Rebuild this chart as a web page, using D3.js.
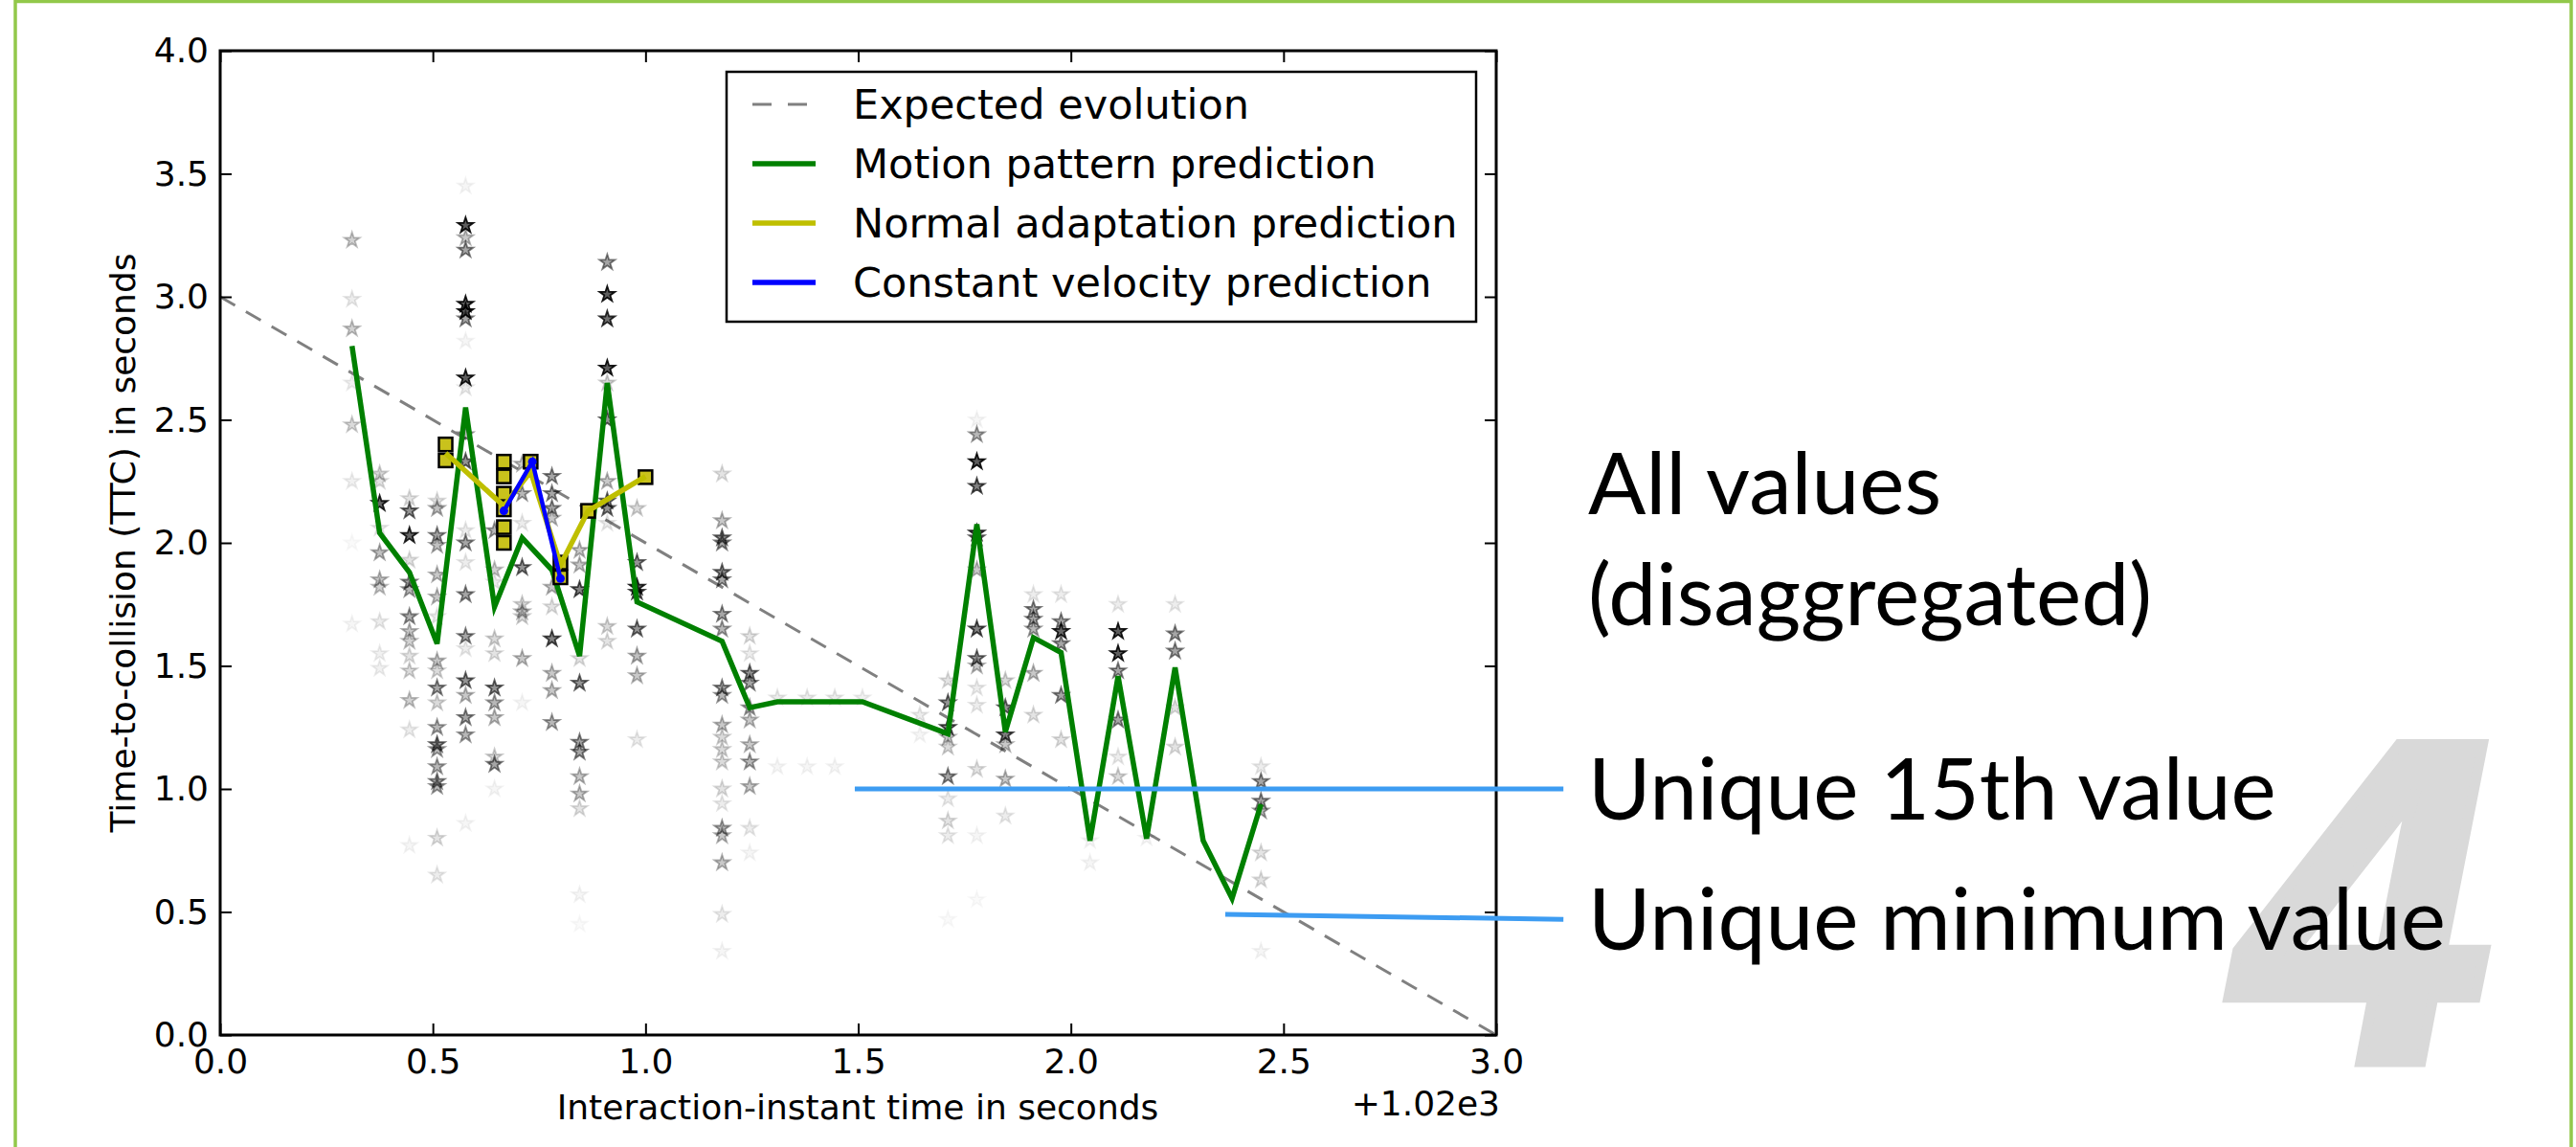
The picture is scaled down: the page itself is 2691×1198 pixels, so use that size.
<!DOCTYPE html>
<html>
<head>
<meta charset="utf-8">
<title>Time-to-collision predictions</title>
<script src="https://cdn.jsdelivr.net/npm/d3@7"></script>
<style>
  body { margin: 0; background: #fff; }
  svg { display: block; }
  .axis text { font-family: "DejaVu Sans"; font-size: 36px; fill: #000; }
  .axis line { stroke: #000; stroke-width: 2px; }
</style>
</head>
<body>
<svg id="chart" width="2691" height="1198"></svg>
<script>
// ---- data (x in seconds, offset +1.02e3) ----
var xTicks = [0, 0.5, 1.0, 1.5, 2.0, 2.5, 3.0];
var yTicks = [0, 0.5, 1.0, 1.5, 2.0, 2.5, 3.0, 3.5, 4.0];

var expectedX = [0, 3];
var expectedY = [3, 0];

var motionX = [0.31, 0.375, 0.445, 0.51, 0.577, 0.645, 0.71, 0.78, 0.845, 0.91, 0.98, 1.18, 1.245, 1.31, 1.38, 1.445, 1.51, 1.711, 1.779, 1.846, 1.912, 1.977, 2.045, 2.111, 2.178, 2.245, 2.311, 2.379, 2.447];
var motionY = [2.80, 2.04, 1.88, 1.59, 2.55, 1.74, 2.02, 1.89, 1.54, 2.65, 1.76, 1.60, 1.33, 1.354, 1.354, 1.354, 1.354, 1.224, 2.075, 1.232, 1.615, 1.554, 0.79, 1.458, 0.798, 1.493, 0.79, 0.555, 0.938];

var normalX = [0.53, 0.667, 0.73, 0.80, 0.865, 1.0];
var normalY = [2.365, 2.15, 2.29, 1.91, 2.13, 2.27];

var constX = [0.667, 0.734, 0.80];
var constY = [2.13, 2.33, 1.855];

var squareX = [0.53, 0.53, 0.667, 0.667, 0.667, 0.667, 0.667, 0.667, 0.73, 0.80, 0.80, 0.865, 1.0];
var squareY = [2.40, 2.335, 2.33, 2.27, 2.20, 2.136, 2.064, 2.0, 2.33, 1.92, 1.86, 2.13, 2.267];

// disaggregated values: one column per instant, [value, opacity]
var starCols = [0.31, 0.375, 0.445, 0.51, 0.577, 0.645, 0.71, 0.78, 0.845, 0.91, 0.98, 1.18, 1.245, 1.31, 1.38, 1.445, 1.51, 1.645, 1.711, 1.779, 1.846, 1.912, 1.977, 2.045, 2.111, 2.178, 2.245, 2.447];
var starVals = [
  [[3.23,.25],[2.99,.1],[2.87,.25],[2.65,.08],[2.48,.2],[2.25,.08],[2.0,.03],[1.67,.05]],
  [[2.28,.2],[2.25,.15],[2.16,.85],[2.06,.1],[1.96,.35],[1.85,.3],[1.82,.25],[1.68,.1],[1.55,.08],[1.49,.08]],
  [[2.18,.15],[2.13,.6],[2.03,.85],[1.93,.15],[1.84,.5],[1.81,.4],[1.70,.45],[1.64,.3],[1.60,.25],[1.54,.15],[1.48,.2],[1.36,.25],[1.24,.1],[0.77,.05]],
  [[2.17,.15],[2.14,.35],[2.03,.5],[1.99,.35],[1.87,.3],[1.78,.3],[1.70,.1],[1.52,.3],[1.48,.2],[1.41,.5],[1.35,.2],[1.25,.4],[1.18,.6],[1.16,.4],[1.09,.4],[1.03,.5],[1.01,.4],[0.80,.15],[0.65,.1]],
  [[3.45,.05],[3.29,.9],[3.24,.3],[3.19,.5],[2.97,.9],[2.94,.9],[2.91,.5],[2.82,.05],[2.67,.9],[2.63,.1],[2.44,.4],[2.33,.6],[2.05,.1],[2.0,.5],[1.92,.1],[1.79,.5],[1.62,.5],[1.57,.1],[1.44,.6],[1.38,.3],[1.29,.5],[1.22,.4],[0.86,.05]],
  [[2.05,.4],[1.89,.25],[1.84,.1],[1.61,.2],[1.55,.15],[1.41,.6],[1.35,.4],[1.29,.3],[1.13,.2],[1.10,.5],[1.0,.05]],
  [[2.32,.3],[2.20,.4],[2.08,.1],[1.90,.6],[1.75,.2],[1.72,.3],[1.70,.2],[1.53,.3],[1.35,.05]],
  [[2.27,.5],[2.20,.5],[2.14,.5],[2.10,.3],[1.82,.3],[1.74,.15],[1.61,.7],[1.47,.3],[1.40,.3],[1.27,.4]],
  [[1.97,.3],[1.91,.3],[1.81,.7],[1.53,.15],[1.43,.6],[1.19,.5],[1.15,.5],[1.05,.3],[0.98,.3],[0.92,.15],[0.57,.05],[0.45,.03]],
  [[3.14,.5],[3.01,.9],[2.91,.8],[2.71,.9],[2.65,.2],[2.50,.6],[2.25,.3],[2.17,.6],[2.14,.6],[2.08,.1],[1.66,.2],[1.60,.15]],
  [[2.14,.2],[1.92,.6],[1.82,.85],[1.80,.7],[1.65,.6],[1.54,.35],[1.46,.3],[1.20,.1]],
  [[2.28,.15],[2.09,.3],[2.02,.6],[2.00,.5],[1.88,.6],[1.85,.5],[1.71,.5],[1.65,.4],[1.41,.5],[1.38,.4],[1.26,.3],[1.21,.2],[1.16,.2],[1.11,.2],[1.0,.15],[0.94,.1],[0.84,.4],[0.81,.3],[0.70,.3],[0.49,.1],[0.34,.05]],
  [[1.62,.15],[1.55,.1],[1.47,.6],[1.43,.5],[1.33,.4],[1.28,.3],[1.18,.3],[1.11,.4],[1.01,.3],[0.84,.1],[0.74,.05]],
  [[1.37,.1],[1.09,.05]],
  [[1.37,.1],[1.09,.05]],
  [[1.37,.1],[1.09,.05]],
  [[1.37,.08]],
  [[1.30,.1],[1.22,.05]],
  [[1.44,.15],[1.35,.6],[1.25,.7],[1.21,.3],[1.17,.2],[1.05,.5],[0.96,.1],[0.87,.15],[0.81,.1],[0.47,.03]],
  [[2.50,.05],[2.44,.4],[2.33,.9],[2.23,.7],[2.04,.8],[2.02,.6],[1.89,.3],[1.65,.7],[1.53,.6],[1.50,.3],[1.41,.1],[1.34,.1],[1.08,.15],[0.81,.05],[0.55,.03]],
  [[1.44,.2],[1.33,.6],[1.22,.7],[1.18,.3],[1.04,.3],[0.89,.1]],
  [[1.79,.1],[1.73,.5],[1.69,.5],[1.65,.4],[1.47,.3],[1.30,.15]],
  [[1.79,.1],[1.68,.5],[1.64,.85],[1.59,.5],[1.38,.5],[1.20,.15]],
  [[0.79,.05],[0.70,.05]],
  [[1.75,.1],[1.64,.9],[1.55,.9],[1.48,.5],[1.28,.5],[1.13,.1],[1.05,.2]],
  [[0.80,.05]],
  [[1.75,.1],[1.63,.5],[1.56,.5],[1.33,.15],[1.17,.15]],
  [[1.09,.1],[1.03,.5],[0.95,.5],[0.91,.4],[0.74,.15],[0.63,.15],[0.34,.05]]
];

var legendLabels = ["Expected evolution", "Motion pattern prediction", "Normal adaptation prediction", "Constant velocity prediction"];

// slide annotations: pointer lines [x0, y0, x1, y1] in data units
var pointerLines = [[1.492, 1.0, 3.158, 1.0], [2.363, 0.49, 3.158, 0.47]];
var noteLines = ["All values", "(disaggregated)", "Unique 15th value", "Unique minimum value"];

// ---- drawing ----
var svg = d3.select("#chart");
var x = d3.scaleLinear().domain([0, 3]).range([230, 1563]);
var y = d3.scaleLinear().domain([0, 4]).range([1081, 53]);

// slide frame
svg.append("path")
  .attr("d", "M16,1198 V1.5 H2686 V1198")
  .attr("fill", "none")
  .attr("stroke", "#92c84a")
  .attr("stroke-width", 3.5);

// big slide number behind text
svg.append("text")
  .attr("x", 2336).attr("y", 1109)
  .attr("font-family", "Liberation Sans")
  .attr("font-weight", "bold")
  .attr("font-style", "italic")
  .attr("font-size", 482)
  .attr("fill", "#d9d9d9")
  .attr("stroke", "#d9d9d9")
  .attr("stroke-width", 11)
  .attr("stroke-linejoin", "miter")
  .text("4");

var line = d3.line().x(function(d){ return x(d[0]); }).y(function(d){ return y(d[1]); });
function pairs(xs, ys){ return xs.map(function(v, i){ return [v, ys[i]]; }); }

// expected evolution
svg.append("path")
  .attr("d", line(pairs(expectedX, expectedY)))
  .attr("fill", "none")
  .attr("stroke", "#808080")
  .attr("stroke-width", 3)
  .attr("stroke-dasharray", "18,13");

// stars
var stars = [];
starCols.forEach(function(c, i){
  starVals[i].forEach(function(v){ stars.push([c, v[0], v[1]]); });
});
var star = d3.symbol().type(d3.symbolStar).size(80);
svg.append("g").selectAll("path")
  .data(stars)
  .enter().append("path")
  .attr("d", star)
  .attr("transform", function(d){ return "translate(" + x(d[0]) + "," + y(d[1]) + ")"; })
  .attr("fill", "#000")
  .attr("fill-opacity", function(d){ return d[2] * 0.7; })
  .attr("stroke", "#000")
  .attr("stroke-opacity", function(d){ return d[2]; })
  .attr("stroke-width", 1.8);

// motion pattern
svg.append("path")
  .attr("d", line(pairs(motionX, motionY)))
  .attr("fill", "none")
  .attr("stroke", "#008000")
  .attr("stroke-width", 5.5)
  .attr("stroke-linejoin", "miter");

// normal adaptation squares
svg.append("g").selectAll("rect")
  .data(pairs(squareX, squareY))
  .enter().append("rect")
  .attr("x", function(d){ return x(d[0]) - 7; })
  .attr("y", function(d){ return y(d[1]) - 7; })
  .attr("width", 14).attr("height", 14)
  .attr("fill", "#c9c21c")
  .attr("stroke", "#000")
  .attr("stroke-width", 2.5);

svg.append("path")
  .attr("d", line(pairs(normalX, normalY)))
  .attr("fill", "none")
  .attr("stroke", "#bfbf00")
  .attr("stroke-width", 5.5);

// constant velocity
svg.append("path")
  .attr("d", line(pairs(constX, constY)))
  .attr("fill", "none")
  .attr("stroke", "#0000ff")
  .attr("stroke-width", 4.5);
svg.append("g").selectAll("circle")
  .data(pairs(constX, constY))
  .enter().append("circle")
  .attr("cx", function(d){ return x(d[0]); })
  .attr("cy", function(d){ return y(d[1]); })
  .attr("r", 4.5)
  .attr("fill", "#0000ff");

// axes (matplotlib classic: ticks inside on all four sides)
svg.append("g").attr("class", "axis")
  .attr("transform", "translate(0,1081)")
  .call(d3.axisBottom(x).tickValues(xTicks).tickFormat(d3.format(".1f"))
    .tickSizeInner(-12).tickSizeOuter(0).tickPadding(14));
svg.append("g").attr("class", "axis")
  .attr("transform", "translate(0,53)")
  .call(d3.axisTop(x).tickValues(xTicks).tickFormat("").tickSizeInner(-12).tickSizeOuter(0));
svg.append("g").attr("class", "axis")
  .attr("transform", "translate(230,0)")
  .call(d3.axisLeft(y).tickValues(yTicks).tickFormat(d3.format(".1f"))
    .tickSizeInner(-12).tickSizeOuter(0).tickPadding(12));
svg.append("g").attr("class", "axis")
  .attr("transform", "translate(1563,0)")
  .call(d3.axisRight(y).tickValues(yTicks).tickFormat("").tickSizeInner(-12).tickSizeOuter(0));
svg.selectAll(".axis .domain").remove();

svg.append("rect")
  .attr("x", 230).attr("y", 53)
  .attr("width", 1333).attr("height", 1028)
  .attr("fill", "none")
  .attr("stroke", "#000")
  .attr("stroke-width", 3);

svg.append("text")
  .attr("x", 1567).attr("y", 1165)
  .attr("text-anchor", "end")
  .attr("font-family", "DejaVu Sans").attr("font-size", 36)
  .text("+1.02e3");

svg.append("text")
  .attr("x", 896).attr("y", 1169)
  .attr("text-anchor", "middle")
  .attr("font-family", "DejaVu Sans").attr("font-size", 36)
  .text("Interaction-instant time in seconds");

svg.append("text")
  .attr("transform", "translate(141,567) rotate(-90)")
  .attr("text-anchor", "middle")
  .attr("font-family", "DejaVu Sans").attr("font-size", 36)
  .text("Time-to-collision (TTC) in seconds");

// legend
var legend = svg.append("g");
legend.append("rect")
  .attr("x", 759).attr("y", 75)
  .attr("width", 783).attr("height", 261)
  .attr("fill", "#fff")
  .attr("stroke", "#000")
  .attr("stroke-width", 2.5);
var legendStyles = [
  {color: "#808080", width: 3, dash: "20,17"},
  {color: "#008000", width: 5.5, dash: null},
  {color: "#bfbf00", width: 5.5, dash: null},
  {color: "#0000ff", width: 5.5, dash: null}
];
legendLabels.forEach(function(label, i){
  var ry = 109 + i * 62;
  legend.append("line")
    .attr("x1", 786).attr("x2", 852)
    .attr("y1", ry).attr("y2", ry)
    .attr("stroke", legendStyles[i].color)
    .attr("stroke-width", legendStyles[i].width)
    .attr("stroke-dasharray", legendStyles[i].dash);
  legend.append("text")
    .attr("x", 891).attr("y", ry)
    .attr("dy", "0.36em")
    .attr("font-family", "DejaVu Sans").attr("font-size", 43)
    .text(label);
});

// slide pointer lines
svg.append("g").selectAll("line")
  .data(pointerLines)
  .enter().append("line")
  .attr("x1", function(d){ return x(d[0]); })
  .attr("y1", function(d){ return y(d[1]); })
  .attr("x2", function(d){ return x(d[2]); })
  .attr("y2", function(d){ return y(d[3]); })
  .attr("stroke", "#3d9cf2")
  .attr("stroke-width", 5);

// slide text, sized so the longest line matches the original width
var notes = svg.append("g").attr("font-family", "Lato").attr("font-size", 100).attr("fill", "#000");
var baselines = [537, 653, 856, 992];
var noteNodes = noteLines.map(function(t, i){
  return notes.append("text").attr("x", 1659).attr("y", baselines[i]).text(t);
});
var w = noteNodes[3].node().getComputedTextLength();
notes.attr("font-size", 100 * 896 / w);
</script>
</body>
</html>
